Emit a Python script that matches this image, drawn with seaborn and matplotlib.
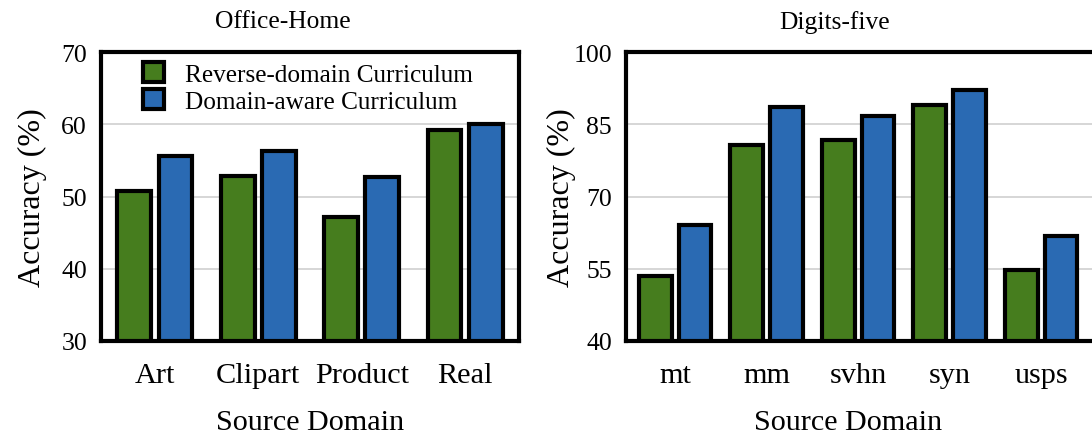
import pandas as pd
import seaborn as sns
import matplotlib.pyplot as plt
from matplotlib.patches import Patch

# Office-Home accuracies (%)
oh_domains = ['Art', 'Clipart', 'Product', 'Real']
oh_reverse = [50.7, 52.9, 47.2, 59.2]
oh_aware = [55.6, 56.3, 52.7, 60.0]

# Digits-five accuracies (%)
dg_domains = ['mt', 'mm', 'svhn', 'syn', 'usps']
dg_reverse = [53.4, 80.6, 81.8, 89.0, 54.8]
dg_aware = [64.1, 88.5, 86.8, 92.1, 61.7]

methods = ['Reverse-domain Curriculum', 'Domain-aware Curriculum']
colors = ['#467d1e', '#2a6ab3']


def make_df(domains, rev, aware):
    rows = []
    for d, r, a in zip(domains, rev, aware):
        rows.append({'domain': d, 'method': methods[0], 'acc': r})
        rows.append({'domain': d, 'method': methods[1], 'acc': a})
    return pd.DataFrame(rows)


df_oh = make_df(oh_domains, oh_reverse, oh_aware)
df_dg = make_df(dg_domains, dg_reverse, dg_aware)

sns.set_theme(style='white')
plt.rcParams['font.family'] = ['Liberation Serif', 'DejaVu Serif']
plt.rcParams['text.color'] = 'black'
plt.rcParams['axes.labelcolor'] = 'black'
plt.rcParams['xtick.color'] = 'black'
plt.rcParams['ytick.color'] = 'black'

fig = plt.figure(figsize=(10.92, 4.35), dpi=100)
ax1 = fig.add_axes([101 / 1092, 93 / 435, 418 / 1092, 289 / 435])
ax2 = fig.add_axes([626 / 1092, 93 / 435, 470 / 1092, 289 / 435])

sns.barplot(data=df_oh, x='domain', y='acc', hue='method', palette=colors,
            saturation=1, width=0.8, gap=0.18, edgecolor='black', linewidth=3,
            errorbar=None, legend=False, ax=ax1)
sns.barplot(data=df_dg, x='domain', y='acc', hue='method', palette=colors,
            saturation=1, width=0.87, gap=0.18, edgecolor='black', linewidth=3,
            errorbar=None, legend=False, ax=ax2)

ax1.set_ylim(30, 70)
ax1.set_yticks([30, 40, 50, 60, 70])
ax1.set_xlim(-0.52, 3.52)
ax2.set_ylim(40, 100)
ax2.set_yticks([40, 55, 70, 85, 100])
ax2.set_xlim(-0.537, 4.6)

for ax in (ax1, ax2):
    ax.set_axisbelow(True)
    ax.yaxis.grid(True, color='#d0d0d0', linewidth=1.2)
    for sp in ax.spines.values():
        sp.set_linewidth(3)
        sp.set_color('black')
    ax.tick_params(axis='y', length=0, labelsize=18.5, pad=10)
    ax.tick_params(axis='x', length=0, labelsize=21.8, pad=15)
    ax.set_ylabel('Accuracy (%)', fontsize=23)
    ax.set_xlabel('Source Domain', fontsize=21.7)

ax1.yaxis.set_label_coords(-0.13, 0.5)
ax2.yaxis.set_label_coords(-0.106, 0.5)
ax1.xaxis.set_label_coords(0.5, -0.235)
ax2.xaxis.set_label_coords(0.472, -0.235)

ax1.text(0.435, 1.107, 'Office-Home', transform=ax1.transAxes,
         ha='center', va='center', fontsize=18.4)
ax2.text(0.443, 1.107, 'Digits-five', transform=ax2.transAxes,
         ha='center', va='center', fontsize=18.4)

handles = [Patch(facecolor=c, edgecolor='black', linewidth=3) for c in colors]
ax1.legend(handles=handles, labels=methods, loc='upper left',
           bbox_to_anchor=(0.1, 0.965), frameon=False, borderpad=0,
           borderaxespad=0, handlelength=0.85, handleheight=0.85,
           labelspacing=0.12, handletextpad=0.8, fontsize=18.2)

fig.savefig('out.png', dpi=100)
